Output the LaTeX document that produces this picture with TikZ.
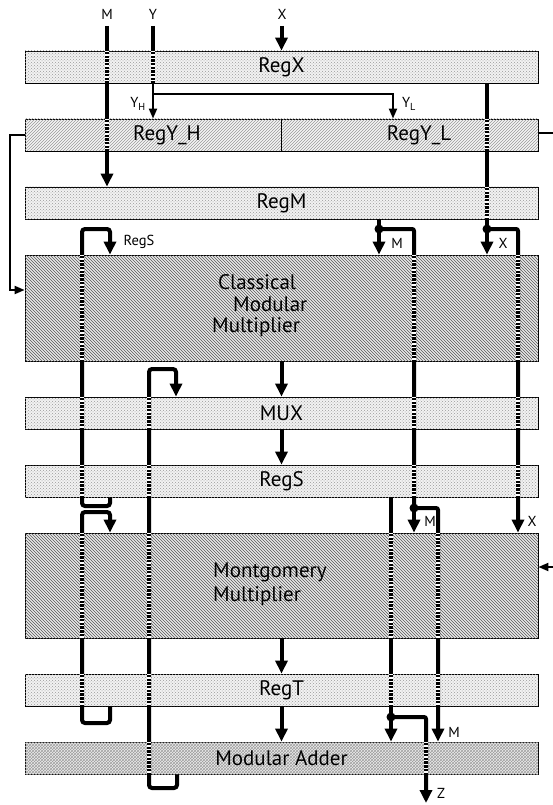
\documentclass[tikz,border=0pt]{standalone}
\usepackage{fontspec}
\setmainfont{PT Sans}
\usetikzlibrary{arrows.meta,patterns}
\begin{document}
\begin{tikzpicture}[x=1pt,y=-1pt,
  box/.style={draw=black, line width=0.8pt, minimum width=513pt, inner sep=0pt, font=\fontsize{21}{25}\selectfont},
  lightbox/.style={box, minimum height=32pt, fill=gray!10, postaction={pattern=crosshatch dots, pattern color=gray!80}},
  chevbox/.style={box, minimum height=32pt, fill=gray!8, postaction={pattern=north east lines, pattern color=gray!80}},
  bigbox/.style={box, fill=gray!18, postaction={pattern=north west lines, pattern color=gray!70!black}},
  addbox/.style={box, minimum height=32pt, fill=gray!15, postaction={pattern=crosshatch, pattern color=gray!75}},
  bus/.style={line width=4pt},
  thinbus/.style={line width=2pt},
  arr/.style={-{Triangle[length=13pt,width=12pt]}},
  arrs/.style={-{Triangle[length=10pt,width=8pt]}},
  xing/.style={white, line width=4.3pt, dash pattern=on 1.3pt off 2.4pt},
  jdot/.style={circle, fill=black, inner sep=0pt, minimum size=9pt},
  lbl/.style={font=\fontsize{14.5}{16}\selectfont, inner sep=0pt},
  txt/.style={font=\fontsize{21}{25}\selectfont, inner sep=0pt},
  loop/.style={bus, rounded corners=3pt}
]
\useasboundingbox (0,0) rectangle (553,805);

% boxes
\node[lightbox] (regx) at (281.5,67) {RegX};
\node[chevbox] (regy) at (281.5,135) {};
\node[lightbox] (regm) at (281.5,203) {RegM};
\node[bigbox, minimum height=106pt] (cmm) at (281.5,308) {};
\node[lightbox] (mux) at (281.5,413) {MUX};
\node[lightbox] (regs) at (281.5,481) {RegS};
\node[bigbox, minimum height=105pt] (mont) at (281.5,585.5) {};
\node[lightbox] (regt) at (281.5,690) {RegT};
\node[addbox] (madd) at (281.5,758) {Modular Adder};
\draw[line width=0.8pt] (regy.north) -- (regy.south);
\node[txt] (tyh) at (167,135) {RegY\_H};
\node[txt] (tyl) at (419,135) {RegY\_L};
\node[txt, anchor=west] (t1) at (218,282) {Classical};
\node[txt, anchor=west] (t2) at (233,304) {Modular};
\node[txt, anchor=west] (t3) at (212,327) {Multiplier};
\node[txt, anchor=west] (t4) at (213,572) {Montgomery};
\node[txt, anchor=west] (t5) at (213,596) {Multiplier};

% column coordinates
\coordinate (cM) at (107,26);
\coordinate (cY) at (153,26);
\coordinate (cX) at (281.5,26);
\coordinate (ysplit) at (153,94);
\coordinate (cYL) at (393,94);
\coordinate (cXo) at (487,0);
\coordinate (xdot) at (487,229);
\coordinate (cXr) at (518,229);
\coordinate (mdot) at (379,229);
\coordinate (cMr) at (414,229);
\coordinate (mdot2) at (414,508);
\coordinate (cMr2) at (438,508);
\coordinate (cS) at (391,0);
\coordinate (sdot) at (391,717);
\coordinate (cZ) at (426,717);
\coordinate (zend) at (426,803);
\coordinate (a1) at (82,229);
\coordinate (a2) at (110,229);
\coordinate (a3) at (82,506);
\coordinate (a4) at (110,506);
\coordinate (b1) at (82,512);
\coordinate (b2) at (110,512);
\coordinate (b3) at (82,723);
\coordinate (b4) at (110,723);
\coordinate (c1) at (149,369);
\coordinate (c2) at (176,369);
\coordinate (c3) at (149,788);
\coordinate (c4) at (177,788);
\coordinate (fb1) at (10,135);
\coordinate (fb2) at (10,290);
\coordinate (rs1) at (553,133);
\coordinate (rs2) at (553,567);

% labels
\node[lbl] (lM) at (107,14) {M};
\node[lbl] (lY) at (153,14) {Y};
\node[lbl] (lX) at (282,14) {X};
\node[lbl] (lYH) at (138,104) {Y\textsubscript{H}};
\node[lbl] (lYL) at (409,104) {Y\textsubscript{L}};
\node[lbl] (lRS) at (139,242) {RegS};
\node[lbl] (lM1) at (397,243) {M};
\node[lbl] (lX1) at (503,243) {X};
\node[lbl] (lM2) at (430,521) {M};
\node[lbl] (lX2) at (532,521) {X};
\node[lbl] (lM3) at (454,732) {M};
\node[lbl] (lZ) at (441,793) {Z};

% M input
\draw[bus,arr] (cM) -- (regm.north -| cM);
\draw[xing] (regx.north -| cM) -- (regx.south -| cM);
\draw[xing] (regy.north -| cM) -- (regy.south -| cM);
% Y input
\draw[bus] (cY) -- (regx.south -| cY);
\draw[xing] (regx.north -| cY) -- (regx.south -| cY);
\draw[thinbus,arrs] (regx.south -| cY) -- (regy.north -| cY);
\draw[thinbus,arrs] (ysplit) -- (cYL) -- (regy.north -| cYL);
% X input
\draw[bus,arr] (cX) -- (regx.north -| cX);
% X out of RegX
\draw[bus] (regx.south -| cXo) -- (xdot);
\draw[bus,arr] (xdot) -- (cmm.north -| xdot);
\draw[bus,arr,rounded corners=2pt] (xdot) -- (cXr) -- (mont.north -| cXr);
\draw[xing] (regy.north -| cXo) -- (regy.south -| cXo);
\draw[xing] (regm.north -| cXo) -- (regm.south -| cXo);
\draw[xing] (cmm.north -| cXr) -- (cmm.south -| cXr);
\draw[xing] (mux.north -| cXr) -- (mux.south -| cXr);
\draw[xing] (regs.north -| cXr) -- (regs.south -| cXr);
\node[jdot] (dx) at (xdot) {};
% M out of RegM
\draw[bus] (regm.south -| mdot) -- (mdot);
\draw[bus,arr] (mdot) -- (cmm.north -| mdot);
\draw[bus,rounded corners=2pt] (mdot) -- (cMr) -- (mdot2);
\draw[bus,arr] (mdot2) -- (mont.north -| mdot2);
\draw[bus,arr,rounded corners=2pt] (mdot2) -- (cMr2) -- (madd.north -| cMr2);
\draw[xing] (cmm.north -| cMr) -- (cmm.south -| cMr);
\draw[xing] (mux.north -| cMr) -- (mux.south -| cMr);
\draw[xing] (regs.north -| cMr) -- (regs.south -| cMr);
\draw[xing] (mont.north -| cMr2) -- (mont.south -| cMr2);
\draw[xing] (regt.north -| cMr2) -- (regt.south -| cMr2);
\node[jdot] (dm) at (mdot) {};
\node[jdot] (dm2) at (mdot2) {};
% S out of RegS
\draw[bus] (regs.south -| cS) -- (sdot);
\draw[bus,arr] (sdot) -- (madd.north -| sdot);
\draw[bus,arr,rounded corners=2pt] (sdot) -- (cZ) -- (zend);
\draw[xing] (mont.north -| cS) -- (mont.south -| cS);
\draw[xing] (regt.north -| cS) -- (regt.south -| cS);
\draw[xing] (madd.north -| cZ) -- (madd.south -| cZ);
\node[jdot] (ds) at (sdot) {};
% loop RegS -> Classical
\draw[loop,arr] (regs.south -| a4) -- (a4) -- (a3) -- (a1) -- (a2) -- (cmm.north -| a2);
\draw[xing] (regs.north -| a1) -- (regs.south -| a1);
\draw[xing] (mux.north -| a1) -- (mux.south -| a1);
\draw[xing] (cmm.north -| a1) -- (cmm.south -| a1);
% loop RegT -> Montgomery
\draw[loop,arr] (regt.south -| b4) -- (b4) -- (b3) -- (b1) -- (b2) -- (mont.north -| b2);
\draw[xing] (regt.north -| b1) -- (regt.south -| b1);
\draw[xing] (mont.north -| b1) -- (mont.south -| b1);
% loop Modular Adder -> MUX
\draw[loop,arr] (madd.south -| c4) -- (c4) -- (c3) -- (c1) -- (c2) -- (mux.north -| c2);
\draw[xing] (madd.north -| c1) -- (madd.south -| c1);
\draw[xing] (regt.north -| c1) -- (regt.south -| c1);
\draw[xing] (mont.north -| c1) -- (mont.south -| c1);
\draw[xing] (regs.north -| c1) -- (regs.south -| c1);
\draw[xing] (mux.north -| c1) -- (mux.south -| c1);
% middle flow
\draw[bus,arr] (cmm.south) -- (mux.north);
\draw[bus,arr] (mux.south) -- (regs.north);
\draw[bus,arr] (mont.south) -- (regt.north);
\draw[bus,arr] (regt.south) -- (madd.north);
% RegY feedback and stubs
\draw[thinbus,arrs] (regy.west |- fb1) -- (fb1) -- (fb2) -- (cmm.west |- fb2);
\draw[thinbus] (regy.east |- rs1) -- (rs1);
\draw[thinbus,arrs] (rs2) -- (mont.east |- rs2);
\end{tikzpicture}
\end{document}
